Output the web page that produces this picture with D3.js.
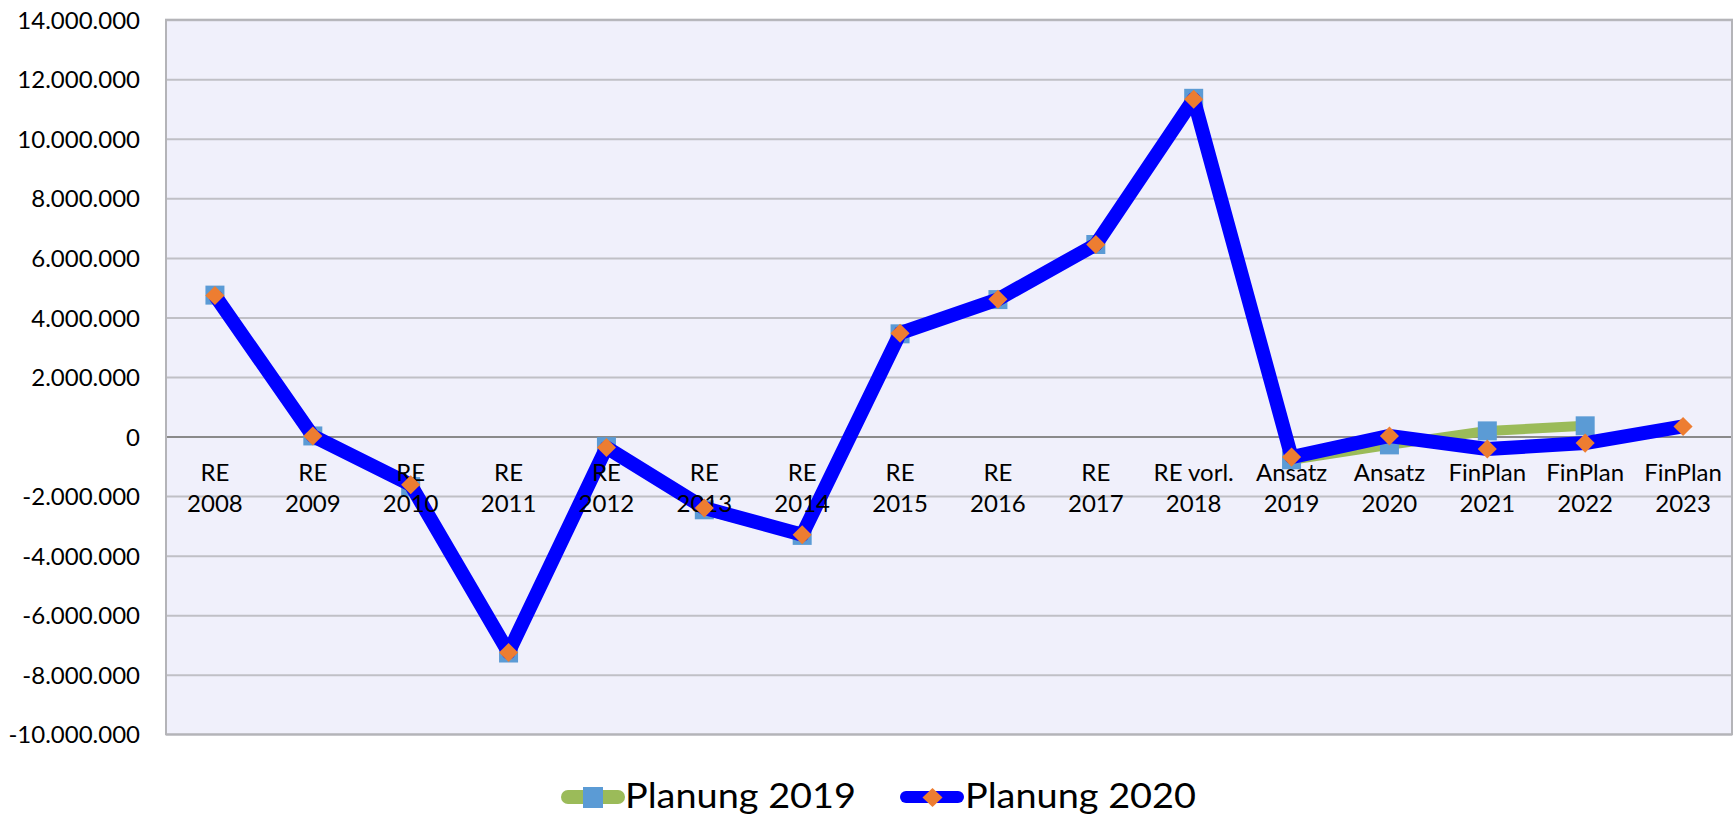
<!DOCTYPE html>
<html><head><meta charset="utf-8">
<script src="https://cdn.jsdelivr.net/npm/d3@7"></script>
<style>body{margin:0;background:#fff}svg{display:block}text{font-family:Lato,"Open Sans",sans-serif;fill:#000}</style>
</head><body><svg id="c" width="1736" height="818"></svg>
<script>
const categories = ["RE\n2008","RE\n2009","RE\n2010","RE\n2011","RE\n2012","RE\n2013","RE\n2014","RE\n2015","RE\n2016","RE\n2017","RE vorl.\n2018","Ansatz\n2019","Ansatz\n2020","FinPlan\n2021","FinPlan\n2022","FinPlan\n2023"];
const seriesNames = ["Planung 2019","Planung 2020"];
const planung2019 = [4750000, 20000, -1680000, -7270000, -340000, -2460000, -3320000, 3450000, 4600000, 6450000, 11360000, -780000, -280000, 190000, 360000, null];
const planung2020 = [4740000, 20000, -1620000, -7250000, -370000, -2400000, -3300000, 3470000, 4610000, 6450000, 11330000, -690000, 20000, -420000, -220000, 340000];
const yTicks = [-10000000,-8000000,-6000000,-4000000,-2000000,0,2000000,4000000,6000000,8000000,10000000,12000000,14000000];

const svg = d3.select("#c");
const plot = {left:166, right:1732, top:19.7, bottom:734.3};
const x = d3.scaleBand().domain(d3.range(categories.length)).range([plot.left, plot.right]);
const cx = i => x(i) + x.bandwidth()/2;
const y = d3.scaleLinear().domain([yTicks[0], yTicks[yTicks.length-1]]).range([plot.bottom, plot.top]);
const loc = d3.formatLocale({decimal:",", thousands:".", grouping:[3], currency:["","€"], minus:"-"});
const fmt = loc.format(",d");

// background
svg.append("rect").attr("x",plot.left).attr("y",plot.top)
  .attr("width",plot.right-plot.left).attr("height",plot.bottom-plot.top)
  .attr("fill","#f0f0fb");

// gridlines
const grid = svg.append("g").attr("transform",`translate(${plot.left},0)`)
  .call(d3.axisLeft(y).tickValues(yTicks).tickSize(-(plot.right-plot.left)).tickFormat(""));
grid.select(".domain").remove();
grid.selectAll("line").attr("stroke", d => d===0 ? "#8a8a8a" : "#c0c0c6").attr("stroke-width", 2);

// frame
svg.append("rect").attr("x",plot.left).attr("y",plot.top)
  .attr("width",plot.right-plot.left).attr("height",plot.bottom-plot.top)
  .attr("fill","none").attr("stroke","#b4b4b8").attr("stroke-width",2);

// y labels
const yAx = svg.append("g").attr("transform",`translate(${plot.left},0)`)
  .call(d3.axisLeft(y).tickValues(yTicks).tickSize(0).tickPadding(26).tickFormat(fmt));
yAx.select(".domain").remove();
yAx.selectAll("text").attr("font-size",24).attr("font-family","Lato").attr("fill","#000").attr("dy","0.36em");

const line = d3.line().defined(d => d != null).x((d,i)=>cx(i)).y(d=>y(d));

// series 1
svg.append("path").datum(planung2019).attr("d",line).attr("fill","none")
  .attr("stroke","#9bbb59").attr("stroke-width",10).attr("stroke-linejoin","round");
svg.append("g").selectAll("rect").data(planung2019.map((v,i)=>({v,i})).filter(d=>d.v!=null))
  .join("rect").attr("x",d=>cx(d.i)-9.5).attr("y",d=>y(d.v)-9.5).attr("width",19).attr("height",19)
  .attr("fill","#5b9bd5");

// series 2 line
svg.append("path").datum(planung2020).attr("d",line).attr("fill","none")
  .attr("stroke","#0000ff").attr("stroke-width",14).attr("stroke-linejoin","round");

// x labels
const xl = svg.append("g").selectAll("text").data(categories).join("text")
  .attr("text-anchor","middle").attr("font-size",24).attr("font-family","Lato");
xl.each(function(c,i){
  const parts = c.split("\n");
  d3.select(this).selectAll("tspan").data(parts).join("tspan")
    .attr("x",cx(i)).attr("y",(p,k)=>y(0)+44+k*31.6).text(p=>p);
});

// series 2 markers
svg.append("g").selectAll("path").data(planung2020.map((v,i)=>({v,i})).filter(d=>d.v!=null))
  .join("path").attr("d",d3.symbol(d3.symbolSquare,182)())
  .attr("transform",d=>`translate(${cx(d.i)},${y(d.v)}) rotate(45)`)
  .attr("fill","#ed7d31");

// legend
const lg = svg.append("g");
lg.append("line").attr("x1",568).attr("x2",618).attr("y1",797).attr("y2",797)
  .attr("stroke","#9bbb59").attr("stroke-width",14).attr("stroke-linecap","round");
lg.append("rect").attr("x",583).attr("y",787).attr("width",20).attr("height",21).attr("fill","#5b9bd5");
lg.append("text").attr("x",625).attr("y",808).attr("font-size",35)
  .attr("textLength",231).attr("lengthAdjust","spacingAndGlyphs").text(seriesNames[0]);
lg.append("line").attr("x1",906).attr("x2",958).attr("y1",797).attr("y2",797)
  .attr("stroke","#0000ff").attr("stroke-width",12).attr("stroke-linecap","round");
lg.append("path").attr("d","M932.5,788L942.5,797.5L932.5,807L922.5,797.5Z").attr("fill","#ed7d31");
lg.append("text").attr("x",965).attr("y",808).attr("font-size",35)
  .attr("textLength",231).attr("lengthAdjust","spacingAndGlyphs").text(seriesNames[1]);
</script></body></html>
